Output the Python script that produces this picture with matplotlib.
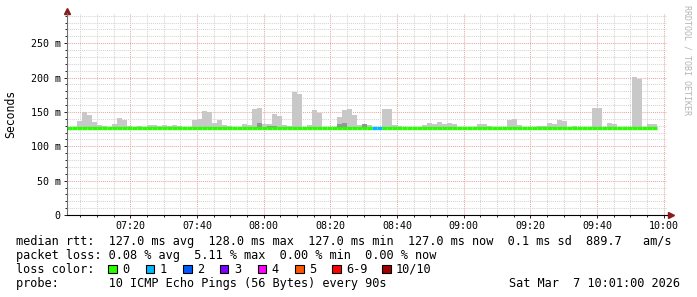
import matplotlib
matplotlib.use("Agg")
import matplotlib.pyplot as plt
from matplotlib.patches import Rectangle
from matplotlib.ticker import MultipleLocator, FuncFormatter

W, H = 697, 297

# one smokeping step every 90 s, first step at 07:01 (minutes after 07:00)
start_min = 1.0
step_min = 1.5

# top of the smoke (ms) for each step, 127 = no visible smoke
smoke_top = [
    127, 127, 137, 149.7, 145.8, 135.6, 131.2, 129.7, 127, 132.6,
    141.4, 138.5, 129.7, 127, 129.7, 127, 131, 131, 129.7, 131,
    129.7, 131, 129.7, 127, 127, 138.5, 139.4, 151.6, 150, 134,
    138.5, 131, 129.7, 127, 127, 132.6, 131, 154.5, 156, 132,
    132.6, 147, 144, 131, 129.7, 179.3, 176.4, 127, 131, 153,
    148.7, 127, 127, 127, 142.8, 153, 154.5, 145.8, 131, 132.6,
    131, 127, 127, 154.5, 154.5, 131, 129.7, 127, 127, 127,
    127, 131, 134, 132.6, 135.6, 132.6, 134, 132.6, 127, 127,
    127, 127, 132.6, 132.6, 129.7, 127, 127, 127, 138.5, 139.9,
    131, 127, 127, 127, 129.7, 129.7, 134, 132.6, 138.5, 137,
    127, 129.7, 127, 127, 127, 156, 155.5, 127, 134, 132.6,
    127, 127, 127, 201, 198, 127, 132.6, 132.6,
]
# darker smoke near the median
dark_idx = [38, 40, 41, 54, 55, 59]
dark_top = [134.5, 130, 130, 133, 134, 132.6]
# steps with lost pings
loss_idx = [61, 62]
loss_val = [1, 1]

median_ms = 127.0
smoke_floor = 126.0

loss_labels = ["0", "1", "2", "3", "4", "5", "6-9", "10/10"]
loss_colors = ["#26ff00", "#00b8ff", "#0059ff", "#7e00ff", "#ff00ff",
               "#ff5500", "#ff0000", "#a10000"]


def fx(px):
    return px / W


def fy(py):
    return 1 - py / H


mono = "DejaVu Sans Mono"
fig = plt.figure(figsize=(W / 100, H / 100), dpi=100)
ax = fig.add_axes([fx(67), fy(215), 600 / W, 202 / H])

n = len(smoke_top)
times = [start_min + step_min * i for i in range(n)]

ax.bar(times, [v - smoke_floor for v in smoke_top], width=step_min,
       bottom=smoke_floor, align="edge", color="#c8c8c8", linewidth=0, zorder=2)
ax.bar([times[i] for i in dark_idx], [v - smoke_floor for v in dark_top],
       width=step_min, bottom=smoke_floor, align="edge", color="#969696",
       linewidth=0, zorder=2)

seg_colors = [loss_colors[0]] * n
for i, l in zip(loss_idx, loss_val):
    seg_colors[i] = loss_colors[l]
ax.hlines([median_ms] * n, times, [t + step_min for t in times],
          colors=seg_colors, linewidth=2.4, zorder=3)

ax.set_xlim(1, 181)
ax.set_ylim(0, 294)

ax.xaxis.set_major_locator(MultipleLocator(20))
ax.xaxis.set_minor_locator(MultipleLocator(5))
ax.yaxis.set_major_locator(MultipleLocator(50))
ax.yaxis.set_minor_locator(MultipleLocator(10))
ax.xaxis.set_major_formatter(FuncFormatter(
    lambda v, p: "%02d:%02d" % (7 + int(v) // 60, int(v) % 60)))
ax.yaxis.set_major_formatter(FuncFormatter(
    lambda v, p: "0" if v == 0 else "%d m" % v))

ax.grid(which="minor", color="#d4d4d4", linestyle=(0, (1, 1)), linewidth=0.75, zorder=0)
ax.grid(which="major", color="#e8a6a6", linestyle=(0, (1, 1)), linewidth=0.75, zorder=1)
ax.set_axisbelow(True)

ax.tick_params(which="both", labelsize=7.2, length=2, width=0.6, pad=2.5)
ax.tick_params(which="minor", length=1.2)
for lab in ax.get_xticklabels() + ax.get_yticklabels():
    lab.set_family(mono)

for s in ["top", "right"]:
    ax.spines[s].set_visible(False)
ax.spines["left"].set_color("#707070")
ax.spines["bottom"].set_color("black")
ax.spines["left"].set_zorder(5)
ax.spines["bottom"].set_zorder(5)

# axis arrows
ax.plot([1, 1.007], [0, 0], transform=ax.transAxes, color="black", lw=0.8, clip_on=False)
ax.plot([1.007], [0], marker=">", markersize=4, color="#8b1a1a",
        transform=ax.transAxes, clip_on=False)
ax.plot([0], [1.012], marker="^", markersize=4, color="#8b1a1a",
        transform=ax.transAxes, clip_on=False)

fig.text(fx(11), fy(114), "Seconds", rotation=90, va="center", ha="center",
         family=mono, fontsize=8.3)
fig.text(fx(687), fy(60), "RRDTOOL / TOBI OETIKER", rotation=270, va="center",
         ha="center", family=mono, fontsize=6, color="#b4b4b4")

# legend block
fs = 8.55
fig.text(fx(16), fy(245), "median rtt:  127.0 ms avg  128.0 ms max  127.0 ms min  "
         "127.0 ms now  0.1 ms sd  889.7   am/s", family=mono, fontsize=fs, va="baseline")
fig.text(fx(16), fy(259.5), "packet loss: 0.08 % avg  5.11 % max  0.00 % min  0.00 % now",
         family=mono, fontsize=fs, va="baseline")
fig.text(fx(16), fy(273), "loss color:", family=mono, fontsize=fs, va="baseline")
sq_x = [108, 145.5, 183, 220, 257.5, 295, 332, 382]
for x, lab, c in zip(sq_x, loss_labels, loss_colors):
    fig.add_artist(Rectangle((fx(x), fy(273)), 8.5 / W, 8.5 / H, transform=fig.transFigure,
                             facecolor=c, edgecolor="black", linewidth=0.8))
    fig.text(fx(x + 14), fy(273), lab, family=mono, fontsize=fs, va="baseline")
fig.text(fx(16), fy(287), "probe:       10 ICMP Echo Pings (56 Bytes) every 90s",
         family=mono, fontsize=fs, va="baseline")
fig.text(fx(680), fy(287), "Sat Mar  7 10:01:00 2026", family=mono, fontsize=fs,
         va="baseline", ha="right")

fig.savefig("out.png", dpi=100)
